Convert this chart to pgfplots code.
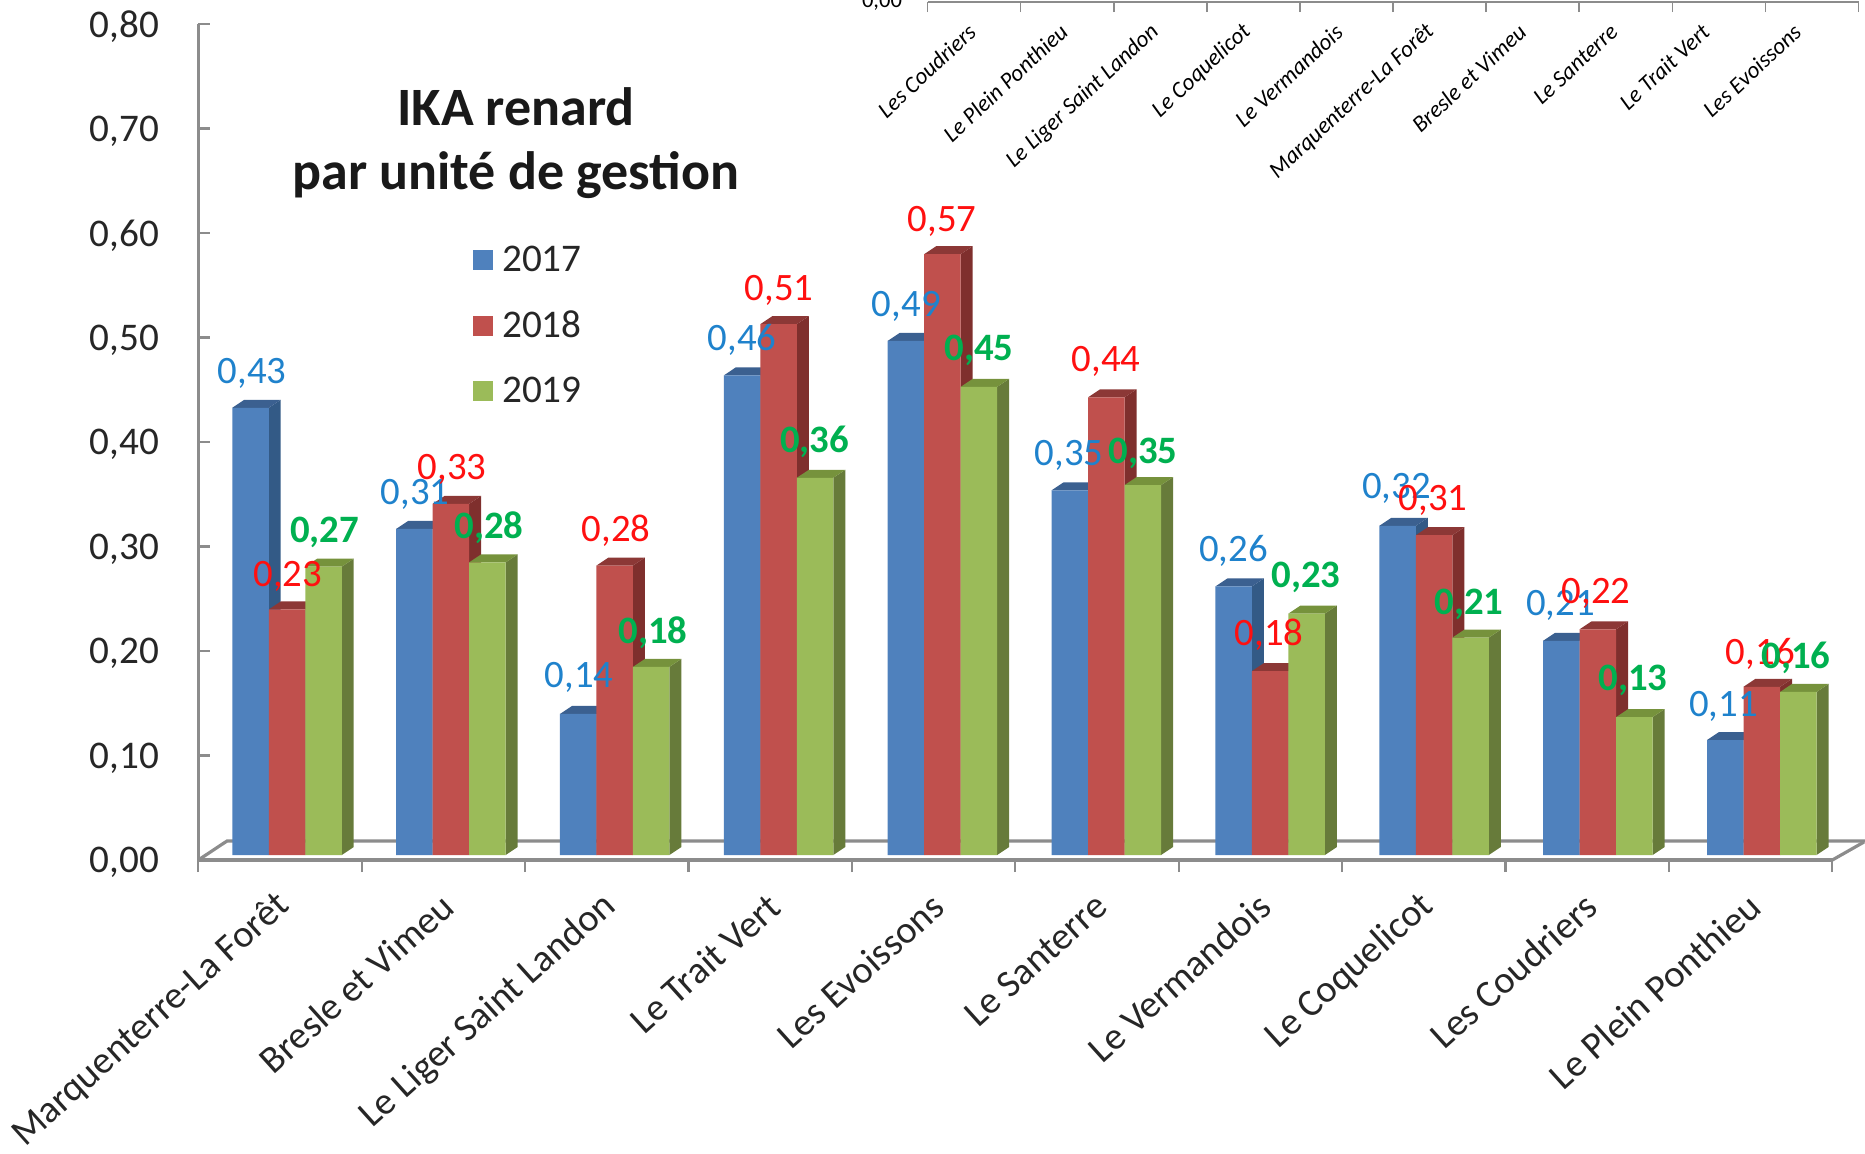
\documentclass[border=0pt]{standalone}
\usepackage{pgfplots}
\usepackage{pgfplotstable}
\usepackage{fontspec}
\setmainfont{Carlito}
\pgfplotsset{compat=1.18}
\definecolor{bF}{HTML}{4F81BD}\definecolor{bS}{HTML}{335A86}\definecolor{bT}{HTML}{3B6090}
\definecolor{rF}{HTML}{C0504D}\definecolor{rS}{HTML}{7F2F2D}\definecolor{rT}{HTML}{8C3836}
\definecolor{gF}{HTML}{9BBB59}\definecolor{gS}{HTML}{677B3A}\definecolor{gT}{HTML}{76923C}
\definecolor{lB}{HTML}{1F82CC}\definecolor{lR}{HTML}{FF1010}\definecolor{lG}{HTML}{00B050}
\definecolor{axG}{HTML}{8C8C8C}
\pgfplotstableread{
i  b     r     g
0  0.428 0.235 0.276
1  0.312 0.336 0.280
2  0.135 0.277 0.180
3  0.459 0.508 0.361
4  0.492 0.575 0.448
5  0.349 0.438 0.354
6  0.257 0.176 0.231
7  0.315 0.306 0.208
8  0.205 0.216 0.132
9  0.110 0.161 0.156
}\ikadata
% depth faces of one bar: group, slot, value, side colour, top colour
\newcommand\cube[5]{%
  \pgfmathsetmacro\xl{#1+(#2-1.5)*0.22275}%
  \pgfmathsetmacro\xr{\xl+0.22275}%
  \pgfmathsetmacro\xd{\xr+0.0732}%
  \pgfmathsetmacro\xe{\xl+0.0732}%
  \pgfmathsetmacro\vt{#3+0.00766}%
  \addplot[fill=#4,draw=none,mark=none,forget plot] coordinates {(\xr,#3)(\xd,\vt)(\xd,0.00766)(\xr,0)} --cycle;
  \addplot[fill=#5,draw=none,mark=none,forget plot] coordinates {(\xl,#3)(\xe,\vt)(\xd,\vt)(\xr,#3)} --cycle;
}
\newcommand\lab[4]{\node[text=#3,font=\fontsize{19.4}{19.4}\selectfont,inner sep=0pt] at ({#1*1.1894*0.5pt},{-(#2+1.8)*1.1894*0.5pt}) {#4};}
\newcommand\labb[3]{\node[text=lG,font=\fontsize{19.4}{19.4}\selectfont\bfseries,inner sep=0pt] at ({#1*1.1894*0.5pt},{-(#2+1.8)*1.1894*0.5pt}) {#3};}
\begin{document}
\begin{tikzpicture}
\path[use as bounding box] (0,0) rectangle (932.5pt,-576.5pt);
% inset remains of the other chart, cut by the top edge
\begin{axis}[
  scale only axis, at={(463.75pt,-1pt)}, anchor=south west,
  width=465.5pt, height=6pt, xmin=0, xmax=10, ymin=0, ymax=1,
  axis x line*=bottom, axis y line=none,
  axis line style={draw=axG,line width=1.2pt},
  xtick={0.5,1.485,2.47,3.455,4.44,5.425,6.41,7.395,8.38,9.365},
  xticklabels={Les Coudriers,Le Plein Ponthieu,Le Liger Saint Landon,Le Coquelicot,Le Vermandois,Marquenterre-La Forêt,Bresle et Vimeu,Le Santerre,Le Trait Vert,Les Evoissons},
  major tick length=0pt,
  extra x ticks={0,...,10}, extra x tick labels={},
  extra x tick style={major tick length=5pt,tick style={draw=axG,line width=0.8pt},tick align=outside},
  xticklabel style={rotate=43,anchor=east,font=\fontsize{11.6}{11.6}\selectfont\itshape,inner sep=0pt,yshift=-9pt,xshift=-9.5pt},
]
\addplot[draw=none,forget plot] coordinates {(0,0)(10,1)};
\end{axis}
\node[font=\fontsize{11.3}{11.3}\selectfont,inner sep=0pt] at (441pt,-1pt) {0,00};
% main frame
\begin{axis}[
  scale only axis, at={(99.15pt,-430pt)}, anchor=south west,
  width=817pt, height=418pt, xmin=0, xmax=10, ymin=0, ymax=0.8,
  axis x line*=bottom, axis y line*=left,
  axis line style={draw=axG,line width=1.6pt,-},
  ytick={0,0.1,...,0.8},
  /pgf/number format/.cd, fixed, fixed zerofill, precision=2, use comma, assume math mode=true,
  /pgfplots/.cd,
  ytick style={draw=axG,line width=1.1pt},
  ytick align=inside, major tick length=6pt,
  yticklabel style={font=\fontsize{19.6}{19.6}\selectfont,text=black!85,xshift=-16pt,yshift=-1.2pt},
  xtick={0.5,1.5,...,9.5},
  xticklabels={Marquenterre-La Forêt,Bresle et Vimeu,Le Liger Saint Landon,Le Trait Vert,Les Evoissons,Le Santerre,Le Vermandois,Le Coquelicot,Les Coudriers,Le Plein Ponthieu},
  xtick style={draw=none},
  extra x ticks={0,...,10}, extra x tick labels={},
  extra x tick style={xtick style={draw=axG,line width=1.1pt},tick align=outside,major tick length=6pt},
  xticklabel style={rotate=42,anchor=east,font=\fontsize{19.2}{19.2}\selectfont,text=black!85,inner sep=0pt,yshift=-16.6pt,xshift=-12pt},
]
\addplot[draw=none,forget plot] coordinates {(0,0)(10,0.8)};
\end{axis}
% floor
\draw[axG,line width=1.6pt] (99.15pt,-430pt) -- (113.5pt,-420.5pt) -- (932.5pt,-420.5pt);
\draw[axG,line width=1.6pt] (916.15pt,-430pt) -- (932pt,-421pt);
% bars
\begin{axis}[
  scale only axis, at={(102.535pt,-427.5pt)}, anchor=south west,
  width=819.3pt, height=418pt, xmin=-0.5, xmax=9.5, ymin=0, ymax=0.8,
  axis lines=none, clip=false,
  legend style={at={(axis description cs:0.163,0.729)},anchor=north west,draw=none,fill=none,
    font=\fontsize{19.6}{19.6}\selectfont,text=black!85,row sep=18.2pt,inner sep=0pt,nodes={inner sep=0pt}},
  legend cell align=left,
  legend image code/.code={\fill[#1] (0pt,-5pt) rectangle (10pt,5pt);\path (14.8pt,0pt);},
]
\pgfplotsinvokeforeach{0,...,9}{
  \pgfplotstablegetelem{#1}{b}\of\ikadata \let\vb\pgfplotsretval
  \pgfplotstablegetelem{#1}{r}\of\ikadata \let\vr\pgfplotsretval
  \pgfplotstablegetelem{#1}{g}\of\ikadata \let\vg\pgfplotsretval
  \cube{#1}{0}{\vb}{bS}{bT}
  \cube{#1}{1}{\vr}{rS}{rT}
  \cube{#1}{2}{\vg}{gS}{gT}
}
\addplot[ybar,bar width=18.25pt,bar shift=-18.25pt,fill=bF,draw=none] table[x=i,y=b] {\ikadata};
\addplot[ybar,bar width=18.25pt,bar shift=0pt,fill=rF,draw=none] table[x=i,y=r] {\ikadata};
\addplot[ybar,bar width=18.25pt,bar shift=18.25pt,fill=gF,draw=none] table[x=i,y=g] {\ikadata};
\legend{2017,2018,2019}
\end{axis}
% title
\node[font=\fontsize{27}{32}\selectfont\bfseries,align=center,inner sep=0pt,text=black!90] at (258pt,-71.5pt) {IKA renard\\par unité de gestion};
% data labels
\lab{212}{312}{lB}{0,43}\lab{349}{414}{lB}{0,31}\lab{487}{568}{lB}{0,14}\lab{624}{284}{lB}{0,46}\lab{762}{256}{lB}{0,49}
\lab{899}{381}{lB}{0,35}\lab{1037}{461}{lB}{0,26}\lab{1174}{409}{lB}{0,32}\lab{1312}{507}{lB}{0,21}\lab{1449}{592}{lB}{0,11}
\lab{242}{483}{lR}{0,23}\lab{380}{393}{lR}{0,33}\lab{518}{444}{lR}{0,28}\lab{655}{242}{lR}{0,51}\lab{792}{184}{lR}{0,57}
\lab{930}{302}{lR}{0,44}\lab{1067}{532}{lR}{0,18}\lab{1205}{419}{lR}{0,31}\lab{1342}{497}{lR}{0,22}\lab{1480}{548}{lR}{0,16}
\labb{273}{446}{0,27}\labb{411}{442}{0,28}\labb{549}{530}{0,18}\labb{685}{370}{0,36}\labb{823}{293}{0,45}
\labb{961}{379}{0,35}\labb{1098}{484}{0,23}\labb{1235}{506}{0,21}\labb{1373}{570}{0,13}\labb{1510}{551}{0,16}
\end{tikzpicture}
\end{document}
